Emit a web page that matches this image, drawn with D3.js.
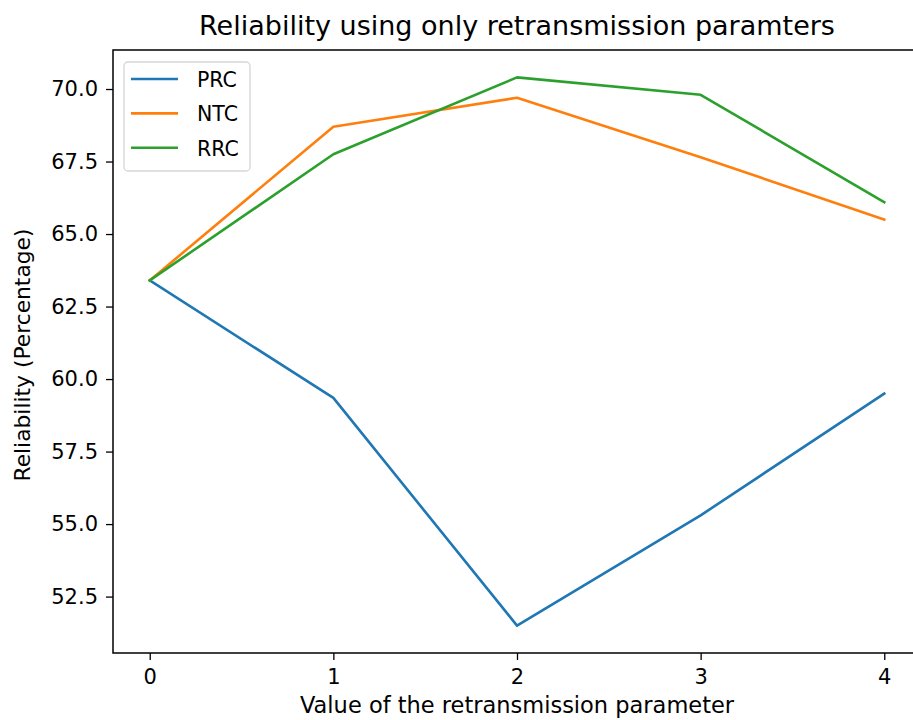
<!DOCTYPE html>
<html>
<head>
<meta charset="utf-8">
<script src="https://cdn.jsdelivr.net/npm/d3@7"></script>
<style>
  body { margin: 0; background: #fff; }
  text { font-family: "DejaVu Sans", sans-serif; fill: #000; }
</style>
</head>
<body>
<div id="chart"></div>
<script>
// data
var xValues = [0, 1, 2, 3, 4];
var prc = [63.4, 59.35, 51.5, 55.3, 59.5];
var ntc = [63.4, 68.7, 69.7, 67.65, 65.5];
var rrc = [63.4, 67.75, 70.4, 69.8, 66.1];
var seriesNames = ["PRC", "NTC", "RRC"];
var seriesColors = ["#1f77b4", "#ff7f0e", "#2ca02c"];
var yTicks = [52.5, 55.0, 57.5, 60.0, 62.5, 65.0, 67.5, 70.0];

var width = 913, height = 720;
var plot = { left: 113, right: 921, top: 50, bottom: 653 };

var svg = d3.select("#chart")
    .append("svg")
    .attr("width", width)
    .attr("height", height);

// matplotlib style 5% margins
var allY = prc.concat(ntc, rrc);
var yMin = d3.min(allY), yMax = d3.max(allY);
var yPad = (yMax - yMin) * 0.05;

var x = d3.scaleLinear()
    .domain([-0.2, 4.2])
    .range([plot.left, plot.right]);
var y = d3.scaleLinear()
    .domain([yMin - yPad, yMax + yPad])
    .range([plot.bottom, plot.top]);

// axes
var xAxis = svg.append("g")
    .attr("transform", "translate(0," + plot.bottom + ")")
    .call(d3.axisBottom(x).tickValues(xValues).tickFormat(d3.format("d")).tickSizeOuter(0).tickSize(7).tickPadding(9));
var yAxis = svg.append("g")
    .attr("transform", "translate(" + plot.left + ",0)")
    .call(d3.axisLeft(y).tickValues(yTicks).tickFormat(d3.format(".1f")).tickSizeOuter(0).tickSize(7).tickPadding(8));

[xAxis, yAxis].forEach(function (g) {
    g.select(".domain").remove();
    g.selectAll(".tick line").attr("stroke", "#000").attr("stroke-width", 1.3);
    g.selectAll(".tick text")
        .style("font-family", "DejaVu Sans")
        .style("font-size", "21px")
        .attr("fill", "#000");
});

// spines (right one sits outside the picture)
svg.append("rect")
    .attr("x", plot.left)
    .attr("y", plot.top)
    .attr("width", plot.right - plot.left)
    .attr("height", plot.bottom - plot.top)
    .attr("fill", "none")
    .attr("stroke", "#000")
    .attr("stroke-width", 1.5);

// lines
var line = d3.line()
    .x(function (d, i) { return x(xValues[i]); })
    .y(function (d) { return y(d); });

var seriesData = [prc, ntc, rrc];
svg.append("g")
    .selectAll("path.series")
    .data(seriesData)
    .enter()
    .append("path")
    .attr("class", "series")
    .attr("fill", "none")
    .attr("stroke", function (d, i) { return seriesColors[i]; })
    .attr("stroke-width", 2.6)
    .attr("stroke-linecap", "square")
    .attr("stroke-linejoin", "round")
    .attr("d", line);

// title and axis labels
svg.append("text")
    .text("Reliability using only retransmission paramters")
    .attr("x", (plot.left + plot.right) / 2)
    .attr("y", 35)
    .attr("text-anchor", "middle")
    .style("font-size", "27px");

svg.append("text")
    .text("Value of the retransmission parameter")
    .attr("x", (plot.left + plot.right) / 2)
    .attr("y", 713)
    .attr("text-anchor", "middle")
    .style("font-size", "22.5px");

svg.append("text")
    .text("Reliability (Percentage)")
    .attr("transform", "translate(30,355) rotate(-90)")
    .attr("text-anchor", "middle")
    .style("font-size", "21.8px");

// legend
var legend = svg.append("g");
legend.append("rect")
    .attr("x", 124)
    .attr("y", 62)
    .attr("width", 126)
    .attr("height", 109)
    .attr("rx", 4)
    .attr("fill", "#fff")
    .attr("fill-opacity", 0.8)
    .attr("stroke", "#d6d6d6")
    .attr("stroke-width", 1.3);

seriesNames.forEach(function (name, i) {
    var ly = 79 + i * 34.4;
    legend.append("line")
        .attr("x1", 131)
        .attr("x2", 178)
        .attr("y1", ly)
        .attr("y2", ly)
        .attr("stroke", seriesColors[i])
        .attr("stroke-width", 2.6);
    legend.append("text")
        .text(name)
        .attr("x", 197)
        .attr("y", ly + 8)
        .style("font-size", "20.5px");
});
</script>
</body>
</html>
